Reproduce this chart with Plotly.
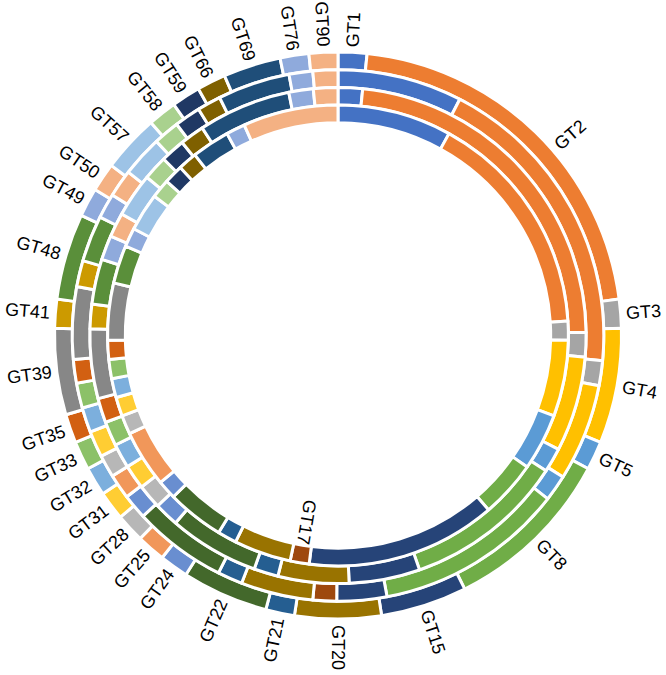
import math
import plotly.graph_objects as go

# ---------------- data ----------------
categories = ["GT1", "GT2", "GT3", "GT4", "GT5", "GT8", "GT15", "GT17", "GT20", "GT21",
              "GT22", "GT24", "GT25", "GT28", "GT31", "GT32", "GT33", "GT35", "GT39", "GT41",
              "GT48", "GT49", "GT50", "GT57", "GT58", "GT59", "GT66", "GT69", "GT76", "GT90"]

# ring values, outermost ring first (0 = category absent from that ring)
ring1_outer = [1, 13, 1, 4, 1, 6, 3, 0, 3, 1,
               3, 1, 1, 1, 1, 1, 1, 1, 3, 1,
               3, 1, 1, 2, 1, 1, 1, 2, 1, 1]
ring2 = [5, 12.5, 1, 3.9, 1.05, 7.6, 2, 0.95, 2.9, 1,
         3.75, 1, 1, 0.9, 1.05, 1, 1, 0.95, 2.9, 1.05,
         1.85, 1, 1.1, 1.65, 1.05, 1.05, 0.95, 2.9, 0.95, 1]
ring3 = [1, 14.6, 1, 3.9, 1, 6.6, 2.9, 0, 2.9, 1,
         3.7, 1, 0, 1, 1, 1, 1, 1, 2.85, 1,
         1.85, 1, 1, 1.8, 1, 1, 1, 3.8, 1, 1]
ring4_inner = [6, 12, 1, 4, 3, 3, 10, 1, 3, 1,
               3, 1, 3, 1, 1, 1, 1, 1, 3, 0,
               2, 1, 0, 2, 1, 1, 1, 2, 1, 5]

colors = ["#4472C4", "#ED7D31", "#A5A5A5", "#FFC000", "#5B9BD5", "#70AD47", "#264478", "#9E480E", "#997300", "#255E91",
          "#43682B", "#698ED0", "#F1975A", "#B7B7B7", "#FFCD33", "#7CAFDD", "#8CC168", "#D26012", "#878787", "#CC9A00",
          "#5A8F3A", "#8FAADC", "#F4B183", "#9DC3E6", "#A9D18E", "#203864", "#7F6000", "#1F4E79", "#8FAADC", "#F4B183"]

# ---------------- layout constants ----------------
W, H = 666, 675
CX, CY = 338, 335.5                      # pixel centre (from top-left)
radii = [283.5, 265.8, 248.1, 230.4, 212.7]
FONT = "Liberation Sans, Arial, sans-serif"
FS = 18
LABEL_GAP_R = 289                        # radius where outer labels start
LABEL_NUDGE = {"GT2": 5.0}               # small angular offset (deg)

color_map = dict(zip(categories, colors))
rings = [ring1_outer, ring2, ring3, ring4_inner]

fig = go.Figure()
for k, vals in enumerate(rings):
    ro, ri = radii[k], radii[k + 1]
    labs = [c for c, v in zip(categories, vals) if v > 0]
    vs = [v for v in vals if v > 0]
    fig.add_trace(go.Pie(
        labels=labs, values=vs, sort=False, direction="clockwise", rotation=0,
        hole=ri / ro,
        marker=dict(colors=[color_map[c] for c in labs], line=dict(color="white", width=3)),
        textinfo="none", hoverinfo="label+value", showlegend=False,
        domain=dict(x=[(CX - ro) / W, (CX + ro) / W], y=[(H - CY - ro) / H, (H - CY + ro) / H]),
    ))


def text_width(s):
    w = 0
    for ch in s:
        w += {"G": 0.778, "T": 0.611}.get(ch, 0.556)
    return w * FS


def mid_angles(vals):
    tot = sum(vals)
    out = {}
    cum = 0
    for c, v in zip(categories, vals):
        if v > 0:
            out[c] = (cum + v / 2) / tot * 360
            cum += v
    return out


annotations = []


def add_label(text, theta, r, outward):
    t = math.radians(theta)
    px = CX + r * math.sin(t)
    py = CY - r * math.cos(t)
    ang = theta - 90 if outward else theta - 270
    annotations.append(dict(
        x=px / W, y=1 - py / H, xref="paper", yref="paper", text=text, showarrow=False,
        textangle=ang, xanchor="center", yanchor="middle",
        font=dict(family=FONT, size=FS, color="#000000"),
    ))


outer_mid = mid_angles(ring1_outer)
for c, th in outer_mid.items():
    th = th + LABEL_NUDGE.get(c, 0)
    r = LABEL_GAP_R + text_width(c) / 2
    add_label(c, th, r, outward=(th <= 181))

# categories missing from the outer ring are labelled inside, next to the inner ring
inner_mid = mid_angles(ring4_inner)
for c in categories:
    if c not in outer_mid and c in inner_mid:
        th = inner_mid[c]
        r = radii[-1] - 1 - text_width(c) / 2
        add_label(c, th, r, outward=True)

fig.update_layout(
    width=W, height=H,
    margin=dict(l=0, r=0, t=0, b=0),
    paper_bgcolor="white", plot_bgcolor="white",
    annotations=annotations,
    showlegend=False,
)

fig.write_html("out.html", config={"displayModeBar": False},
               post_script="document.body.style.margin='0';")
